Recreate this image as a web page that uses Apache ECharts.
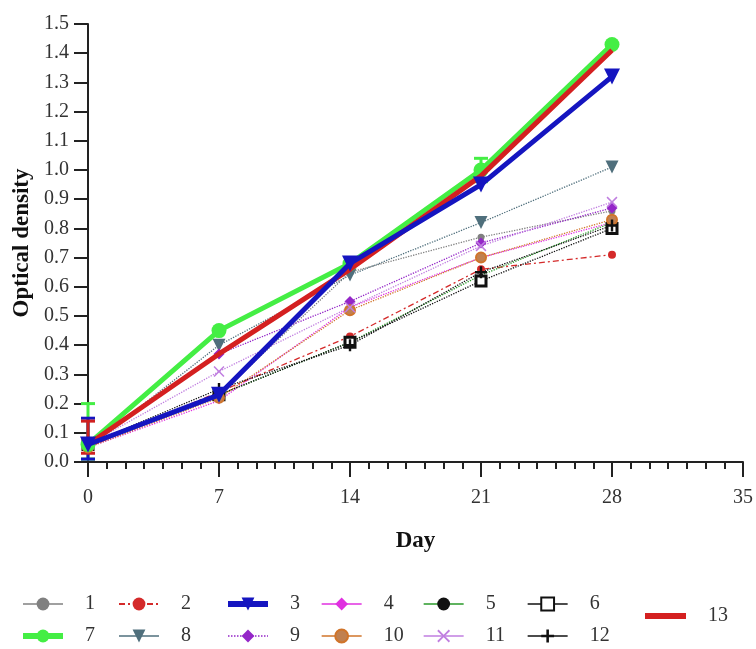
<!DOCTYPE html>
<html><head><meta charset="utf-8">
<script src="https://cdn.jsdelivr.net/npm/echarts@6/dist/echarts.min.js"></script>
<style>html,body{margin:0;padding:0;background:#fff}#c{width:756px;height:649px}</style>
</head><body><div id="c"></div>
<script>
const days = [0, 7, 14, 21, 28];
const yTicks = [0.0,0.1,0.2,0.3,0.4,0.5,0.6,0.7,0.8,0.9,1.0,1.1,1.2,1.3,1.4,1.5];
const xTicks = [0, 7, 14, 21, 28, 35];
const s1  = [0.06, 0.23, 0.65, 0.77, 0.86];
const s2  = [0.05, 0.24, 0.43, 0.66, 0.71];
const s3  = [0.06, 0.23, 0.68, 0.95, 1.32];
const s4  = [0.05, 0.21, 0.53, 0.70, 0.82];
const s5  = [0.06, 0.23, 0.41, 0.64, 0.82];
const s6  = [0.06, 0.23, 0.41, 0.62, 0.80];
const s7  = [0.06, 0.45, 0.68, 1.00, 1.43];
const s8  = [0.05, 0.40, 0.64, 0.82, 1.01];
const s9  = [0.06, 0.37, 0.55, 0.75, 0.87];
const s10 = [0.05, 0.22, 0.52, 0.70, 0.83];
const s11 = [0.06, 0.31, 0.53, 0.74, 0.89];
const s12 = [0.06, 0.25, 0.40, 0.65, 0.81];
const s13 = [0.06, 0.37, 0.66, 0.98, 1.41];
// error bar extents (upper / lower) for the thick series
const err7Hi  = [0.20, null, null, 1.04, null];
const err7Lo  = [0.01, null, null, 0.96, null];
const err3Hi  = [0.15, null, null, null, null];
const err3Lo  = [0.01, null, null, null, null];
const err13Hi = [0.14, null, null, null, null];
const err13Lo = [0.03, null, null, null, null];

const serif = "'Liberation Serif','Times New Roman',serif";
function pts(arr){ return days.map((d,i)=>[d, arr[i]]); }

function thin(name, arr, color, symbol, size, extra){
  return Object.assign({
    name, type:'line', data: pts(arr), symbol, symbolSize:size,
    lineStyle:{color, width:1.3, type:'dotted'}, itemStyle:{color},
    z: 3
  }, extra||{});
}
function thick(name, arr, color, symbol, size, z){
  return {name, type:'line', data: pts(arr), symbol, symbolSize:size,
    lineStyle:{color, width:5}, itemStyle:{color}, z};
}
function errSeries(hi, lo, color){
  return {type:'custom', z:2, silent:true,
    data: days.map((d,i)=>[d, hi[i], lo[i]]).filter(r=>r[1]!=null),
    renderItem:(params, api)=>{
      const x=api.value(0);
      const h=api.coord([x,api.value(1)]), l=api.coord([x,api.value(2)]);
      return {type:'group', children:[
        {type:'line', shape:{x1:h[0],y1:h[1],x2:l[0],y2:l[1]}, style:{stroke:color, lineWidth:3}},
        {type:'line', shape:{x1:h[0]-7,y1:h[1],x2:h[0]+7,y2:h[1]}, style:{stroke:color, lineWidth:3}},
        {type:'line', shape:{x1:l[0]-7,y1:l[1],x2:l[0]+7,y2:l[1]}, style:{stroke:color, lineWidth:3}}
      ]};
    }};
}
const crossPath = 'path://M4,0H6V4H10V6H6V10H4V6H0V4H4Z';
const xPath = 'path://M1,0L5,4L9,0L10,1L6,5L10,9L9,10L5,6L1,10L0,9L4,5L0,1Z';

const series = [
  errSeries(err7Hi, err7Lo, '#44ee44'),
  errSeries(err3Hi, err3Lo, '#1515c0'),
  errSeries(err13Hi, err13Lo, '#d02020'),
  thin('1', s1, '#808080', 'circle', 7),
  Object.assign(thin('2', s2, '#d42a2a', 'circle', 8), {lineStyle:{color:'#d42a2a', width:1.3, type:[6,3,2,3]}}),
  thin('4', s4, '#e030e0', 'diamond', 7),
  thin('5', s5, '#2a9a2a', 'circle', 4, {itemStyle:{color:'#111'}}),
  thin('6', s6, '#111111', 'rect', 10, {itemStyle:{color:'#fff', borderColor:'#111', borderWidth:3}}),
  thin('8', s8, '#4f6f7c', 'triangle', 13, {symbolRotate:180}),
  thin('9', s9, '#9426c8', 'diamond', 11),
  thin('10', s10, '#d0742a', 'circle', 10, {itemStyle:{color:'#c08050', borderColor:'#d0742a', borderWidth:2}}),
  thin('11', s11, '#c07ee0', xPath, 11),
  thin('12', s12, '#111111', crossPath, 12),
  thick('13', s13, '#d42020', 'none', 0, 5),
  thick('7', s7, '#44ee44', 'circle', 15, 4),
  Object.assign(thick('3', s3, '#1515c0', 'triangle', 16, 6), {symbolRotate:180}),
];

const legendCols = [
  {names:['1','7'], left:20},
  {names:['2','8'], left:118},
  {names:['3','9'], left:225},
  {names:['4','10'], left:321},
  {names:['5','11'], left:423},
  {names:['6','12'], left:527},
];
const solidOverride = {'1':1,'4':1,'5':1,'6':1,'8':1,'10':1,'11':1,'12':1};
function legendItem(n){
  const it = {name:n};
  if (solidOverride[n]) it.lineStyle = {type:'solid', width:1.3};
  if (n==='9') it.lineStyle = {type:'dotted', width:1.5};
  if (n==='3' || n==='7') it.lineStyle = {width:6};
  return it;
}
const legendText = {fontFamily:serif, fontSize:20, color:'#333', padding:[0,0,0,17]};
const legends = legendCols.map(c=>({
  orient:'vertical', left:c.left, top:594, padding:0, height:60,
  itemWidth:40, itemHeight:16, itemGap:12,
  data: c.names.map(legendItem), selectedMode:false, textStyle:legendText
}));
legends.push({orient:'vertical', left:645, top:606, padding:0, itemWidth:41, itemHeight:6,
  data:[{name:'13', icon:'rect'}], selectedMode:false, textStyle:legendText});

const chart = echarts.init(document.getElementById('c'), null, {renderer:'canvas'});
chart.setOption({
  animation:false,
  backgroundColor:'#fff',
  grid:{left:88, right:10, top:24, bottom:187, containLabel:false},
  legend: legends,
  xAxis:{type:'value', min:xTicks[0], max:xTicks[xTicks.length-1], interval:7,
    name:'Day', nameLocation:'middle', nameGap:68,
    nameTextStyle:{fontFamily:serif, fontSize:23, fontWeight:'bold', color:'#111'},
    axisLine:{lineStyle:{color:'#222', width:2}},
    axisTick:{show:true, inside:false, length:15, lineStyle:{color:'#222', width:2}},
    minorTick:{show:true, splitNumber:7, length:7, lineStyle:{color:'#222', width:2}},
    splitLine:{show:false},
    axisLabel:{fontFamily:serif, fontSize:20, color:'#333', margin:26}
  },
  yAxis:{type:'value', min:yTicks[0], max:yTicks[yTicks.length-1], interval:0.1,
    name:'Optical density', nameLocation:'middle', nameGap:54,
    nameTextStyle:{fontFamily:serif, fontSize:23, fontWeight:'bold', color:'#111'},
    axisLine:{show:true, lineStyle:{color:'#222', width:2}},
    axisTick:{show:true, inside:false, length:14, lineStyle:{color:'#222', width:2}},
    splitLine:{show:false},
    axisLabel:{fontFamily:serif, fontSize:20, color:'#333', margin:19, formatter:v=>v.toFixed(1)}
  },
  series
});
</script></body></html>
